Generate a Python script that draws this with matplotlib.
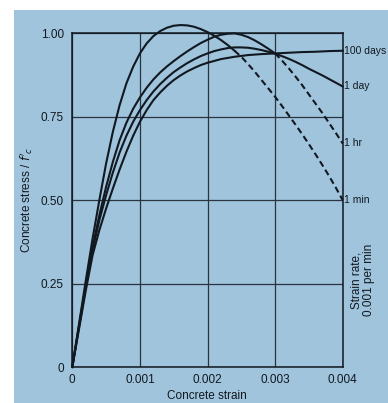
import matplotlib.pyplot as plt
import numpy as np
from matplotlib.patches import Rectangle

# strain readings (x 0.001) and stress ratio readings for each strain rate
strain_1min = [0, 0.1, 0.2, 0.3, 0.4, 0.5, 0.6, 0.7, 0.8, 0.9, 1.0, 1.1, 1.2, 1.3, 1.4, 1.5, 1.6, 1.7, 1.8, 1.9,
               2.0, 2.1, 2.2, 2.3, 2.4, 2.5, 2.6, 2.7, 2.8, 2.9, 3.0, 3.1, 3.2, 3.3, 3.4, 3.5, 3.6, 3.7, 3.8, 3.9, 4.0]
stress_1min = [0, 0.13, 0.26, 0.385, 0.50, 0.61, 0.705, 0.785, 0.85, 0.90, 0.94, 0.97, 0.992, 1.007, 1.017, 1.023,
               1.025, 1.024, 1.02, 1.013, 1.004, 0.993, 0.98, 0.965, 0.948, 0.93, 0.908, 0.885, 0.86, 0.835, 0.81,
               0.783, 0.755, 0.727, 0.698, 0.668, 0.637, 0.605, 0.572, 0.537, 0.50]

strain_1hr = [0, 0.1, 0.2, 0.3, 0.4, 0.5, 0.6, 0.7, 0.8, 0.9, 1.0, 1.1, 1.2, 1.3, 1.4, 1.5, 1.6, 1.7, 1.8, 1.9,
              2.0, 2.1, 2.2, 2.3, 2.4, 2.5, 2.6, 2.7, 2.8, 2.9, 3.0, 3.1, 3.2, 3.3, 3.4, 3.5, 3.6, 3.7, 3.8, 3.9, 4.0]
stress_1hr = [0, 0.125, 0.245, 0.36, 0.455, 0.54, 0.615, 0.68, 0.732, 0.774, 0.808, 0.837, 0.862, 0.883, 0.901,
              0.917, 0.932, 0.946, 0.959, 0.971, 0.981, 0.99, 0.996, 0.999, 1.0, 0.996, 0.989, 0.979, 0.967, 0.954,
              0.94, 0.919, 0.896, 0.871, 0.845, 0.817, 0.789, 0.761, 0.731, 0.701, 0.67]

strain_1day = [0, 0.1, 0.2, 0.3, 0.4, 0.5, 0.6, 0.7, 0.8, 0.9, 1.0, 1.1, 1.2, 1.3, 1.4, 1.5, 1.6, 1.7, 1.8, 1.9,
               2.0, 2.1, 2.2, 2.3, 2.4, 2.5, 2.6, 2.7, 2.8, 2.9, 3.0, 3.1, 3.2, 3.3, 3.4, 3.5, 3.6, 3.7, 3.8, 3.9, 4.0]
stress_1day = [0, 0.12, 0.24, 0.35, 0.44, 0.515, 0.583, 0.643, 0.693, 0.735, 0.77, 0.80, 0.826, 0.848, 0.867,
               0.884, 0.898, 0.911, 0.922, 0.932, 0.94, 0.947, 0.952, 0.956, 0.958, 0.958, 0.957, 0.954, 0.95,
               0.945, 0.939, 0.932, 0.924, 0.915, 0.905, 0.894, 0.884, 0.874, 0.863, 0.852, 0.841]

strain_100d = [0, 0.1, 0.2, 0.3, 0.4, 0.5, 0.6, 0.7, 0.8, 0.9, 1.0, 1.1, 1.2, 1.3, 1.4, 1.5, 1.6, 1.7, 1.8, 1.9,
               2.0, 2.2, 2.4, 2.6, 2.8, 3.0, 3.2, 3.4, 3.6, 3.8, 4.0]
stress_100d = [0, 0.115, 0.23, 0.335, 0.41, 0.475, 0.535, 0.592, 0.645, 0.693, 0.735, 0.77, 0.80, 0.823, 0.843,
               0.86, 0.874, 0.886, 0.896, 0.905, 0.912, 0.923, 0.93, 0.935, 0.938, 0.94, 0.942, 0.944, 0.945,
               0.947, 0.948]

# strain (x 0.001) after which the curve is drawn dashed
dash_from_1min = 2.4
dash_from_1hr = 3.0

rate_labels = ['100 days', '1 day', '1 hr', '1 min']
x_ticks = [0, 1, 2, 3, 4]
x_ticklabels = ['0', '0.001', '0.002', '0.003', '0.004']
y_ticks = [0, 0.25, 0.5, 0.75, 1.0]
y_ticklabels = ['0', '0.25', '0.50', '0.75', '1.00']

bg = '#a0c4dc'
ink = '#111820'
plt.rcParams['font.family'] = ['Liberation Sans', 'DejaVu Sans']

fig = plt.figure(figsize=(3.88, 4.03), dpi=100, facecolor='white')
fig.patches.append(Rectangle((14 / 388, 0), 1, 1 - 10 / 403, transform=fig.transFigure,
                             facecolor=bg, edgecolor='none', zorder=-10))
ax = fig.add_axes([72.3 / 388, 36 / 403, 270.4 / 388, 333.6 / 403])
ax.set_facecolor(bg)


def draw(xs, ys, dash_from=None):
    xs = np.array(xs)
    ys = np.array(ys)
    if dash_from is None:
        ax.plot(xs, ys, color=ink, lw=1.5, clip_on=False, zorder=3)
        return
    solid = xs <= dash_from
    dashed = xs >= dash_from
    ax.plot(xs[solid], ys[solid], color=ink, lw=1.5, clip_on=False, zorder=3)
    ax.plot(xs[dashed], ys[dashed], color=ink, lw=1.5, ls=(0, (3, 1.8)), clip_on=False, zorder=3)


draw(strain_1min, stress_1min, dash_from_1min)
draw(strain_1hr, stress_1hr, dash_from_1hr)
draw(strain_1day, stress_1day)
draw(strain_100d, stress_100d)

ax.set_xlim(0, 4)
ax.set_ylim(0, 1)
ax.set_xticks(x_ticks)
ax.set_xticklabels(x_ticklabels)
ax.set_yticks(y_ticks)
ax.set_yticklabels(y_ticklabels)
ax.tick_params(length=0, labelsize=8.5, colors=ink)
ax.tick_params(axis='x', pad=5)
ax.tick_params(axis='y', pad=6)
ax.grid(True, color='#2a3440', lw=0.9)
for s in ax.spines.values():
    s.set_color(ink)
    s.set_linewidth(1.1)

# labels at the right-hand ends of the curves
ends = [stress_100d[-1], stress_1day[-1], stress_1hr[-1], stress_1min[-1]]
for lab, yv in zip(rate_labels, ends):
    ax.text(4.02, yv, lab, fontsize=7.5, color=ink, va='center', ha='left', clip_on=False)

ax.text(4.3, 0.26, 'Strain rate,\n0.001 per min', rotation=90, fontsize=8.5, color=ink,
        va='center', ha='center', multialignment='center', linespacing=1.05)
ax.set_ylabel("Concrete stress / $f'_c$", fontsize=8.5, color=ink, labelpad=4)
fig.text(207 / 388, 7 / 403, 'Concrete strain', fontsize=8.5, color=ink, ha='center', va='center')

fig.savefig('out.png', dpi=100, facecolor=fig.get_facecolor())
